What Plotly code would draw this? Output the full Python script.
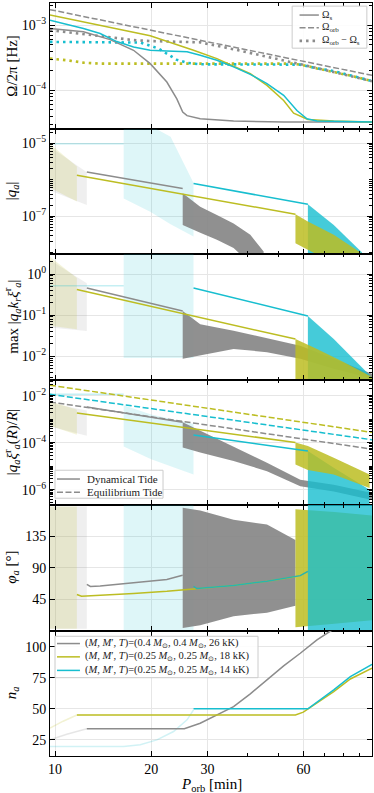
import math
import plotly.graph_objects as go
from plotly.subplots import make_subplots

GRAY = "#8c8c8c"
OLIVE = "#bcbd22"
CYAN = "#17becf"
F_GRAY = "rgba(128,128,128,0.13)"
F_OLIVE = "rgba(188,189,34,0.16)"
F_CYAN = "rgba(23,190,207,0.14)"
B_GRAY = "rgba(135,135,135,0.92)"
B_OLIVE = "rgba(188,189,34,0.85)"
B_CYAN = "rgba(23,190,207,0.8)"
FONT = "Liberation Serif"

# ---------------- Panel 1 : Omega / 2pi [Hz] ----------------
P_ORB = [9.64, 98.3]
OMEGA_ORB = [1.73e-3, 1.70e-4]

P_OS_GRAY = [9.64, 12.27, 14.87, 17.61, 19.86, 22.39, 24.06, 25.1, 25.9, 28.48, 36.23, 51.98, 98.3]
OS_GRAY = [8.9e-4, 7.9e-4, 6.0e-4, 4.12e-4, 2.57e-4, 1.34e-4, 7.4e-5, 4.65e-5, 4.1e-5, 3.66e-5, 3.39e-5, 3.26e-5, 3.26e-5]
P_OD_GRAY = [9.64, 12.27, 14.87, 17.61, 19.86, 22.39, 25.26, 28.48, 36.23, 58.61, 98.3]
OD_GRAY = [8.4e-4, 7.3e-4, 6.4e-4, 5.9e-4, 5.7e-4, 5.6e-4, 5.5e-4, 5.45e-4, 4.27e-4, 2.52e-4, 1.38e-4]

P_OS_CYAN = [9.64, 12.27, 13.84, 15.61, 17.61, 19.86, 22.39, 25.9, 28.48, 32.12, 36.23, 40.87, 46.09, 51.98, 57.2, 61.5, 66.1, 98.3]
OS_CYAN = [1.19e-3, 8.9e-4, 7.45e-4, 5.6e-4, 4.64e-4, 4.12e-4, 4.0e-4, 3.9e-4, 3.45e-4, 2.9e-4, 2.29e-4, 1.76e-4, 1.27e-4, 8.4e-5, 4.9e-5, 3.66e-5, 3.4e-5, 3.26e-5]
P_OD_CYAN = [9.64, 14.87, 18.5, 21.1, 24.0, 25.9, 28.48, 58.61, 66.1, 74.6, 84.1, 98.3]
OD_CYAN = [5.54e-4, 5.54e-4, 5.41e-4, 4.37e-4, 2.96e-4, 2.64e-4, 2.51e-4, 2.48e-4, 2.18e-4, 1.98e-4, 1.70e-4, 1.39e-4]

P_OS_OLIVE = [9.64, 13.84, 19.86, 27.14, 32.12, 36.23, 40.87, 46.09, 51.98, 55.86, 58.61, 61.9, 74.6, 98.3]
OS_OLIVE = [1.43e-3, 1.0e-3, 6.86e-4, 4.12e-4, 3.07e-4, 2.34e-4, 1.8e-4, 1.19e-4, 7.0e-5, 4.48e-5, 4.0e-5, 3.58e-5, 3.39e-5, 3.26e-5]
P_OD_OLIVE = [9.64, 10.88, 12.27, 13.84, 55.86, 61.5, 66.1, 74.6, 84.1, 98.3]
OD_OLIVE = [3.07e-4, 2.9e-4, 2.66e-4, 2.57e-4, 2.57e-4, 2.37e-4, 2.17e-4, 1.93e-4, 1.68e-4, 1.39e-4]

# ---------------- Panel 2 : |q_a| ----------------
Q_FADE_OLIVE_P = [9.64, 11.7]; Q_FADE_OLIVE_HI = [9.6e-6, 2.3e-6]; Q_FADE_OLIVE_LO = [6e-7, 2.5e-7]
Q_FADE_GRAY_P = [9.64, 12.57]; Q_FADE_GRAY_HI = [8e-6, 1.6e-6]; Q_FADE_GRAY_LO = [5e-7, 2.0e-7]
Q_FADE_CYAN_FLAT_P = [9.64, 16.4]; Q_FADE_CYAN_FLAT = [9.6e-6, 9.6e-6]
Q_FADE_CYAN_P = [16.4, 19.86, 23.0, 27.14]; Q_FADE_CYAN_HI = [3e-5, 3e-5, 1.5e-5, 8e-7]; Q_FADE_CYAN_LO = [3.05e-7, 1.32e-7, 6e-8, 2.75e-8]
Q_GRAY_P = [12.57, 25.1]; Q_GRAY = [1.62e-6, 5.7e-7]
Q_GRAY_BP = [25.1, 28.48, 32.12, 36.23, 40.87, 45.0]
Q_GRAY_HI = [4.2e-7, 1.8e-7, 1.07e-7, 6.3e-8, 3.05e-8, 1.07e-8]
Q_GRAY_LO = [5.7e-8, 3.5e-8, 2.24e-8, 1.33e-8, 5e-9, 5e-9]
Q_OLIVE_P = [11.7, 56.6]; Q_OLIVE = [1.32e-6, 1.12e-7]
Q_OLIVE_BP = [56.6, 61.9, 74.6, 90.4]; Q_OLIVE_HI = [1.12e-7, 7.1e-8, 3.05e-8, 1.0e-8]; Q_OLIVE_LO = [1.8e-8, 1.2e-8, 5e-9, 5e-9]
Q_CYAN_P = [27.14, 61.9]; Q_CYAN = [7.8e-7, 2.1e-7]
Q_CYAN_BP = [61.9, 74.6, 91.5]; Q_CYAN_HI = [2.1e-7, 5.7e-8, 1.0e-8]; Q_CYAN_LO = [5e-9, 5e-9, 5e-9]

# ---------------- Panel 3 : max |q k xi| ----------------
K_FADE_OLIVE_P = [9.64, 11.7]; K_FADE_OLIVE_HI = [2.65, 0.8]; K_FADE_OLIVE_LO = [0.055, 0.045]
K_FADE_GRAY_P = [9.64, 12.57]; K_FADE_GRAY_HI = [2.2, 0.6]; K_FADE_GRAY_LO = [0.05, 0.041]
K_FADE_CYAN_FLAT_P = [9.64, 16.4]; K_FADE_CYAN_FLAT = [0.52, 0.52]
K_FADE_CYAN_P = [16.4, 27.14]; K_FADE_CYAN_HI = [5.0, 5.0]; K_FADE_CYAN_LO = [9e-3, 9e-3]
K_GRAY_P = [12.57, 25.1]; K_GRAY = [0.46, 0.126]
K_GRAY_BP = [25.1, 28.48, 36.23, 46.09, 58.61, 74.6, 98.3]
K_GRAY_HI = [0.126, 0.060, 0.0414, 0.0271, 0.018, 8.6e-3, 3.74e-3]
K_GRAY_LO = [8.6e-3, 0.0103, 0.015, 0.0125, 8.6e-3, 4.94e-3, 2.84e-3]
K_OLIVE_P = [11.7, 56.6]; K_OLIVE = [0.419, 0.026]
K_OLIVE_BP = [56.6, 66.1, 80.0, 98.3]; K_OLIVE_HI = [0.026, 0.015, 7.2e-3, 3.1e-3]; K_OLIVE_LO = [1e-3, 1e-3, 1e-3, 1e-3]
K_CYAN_P = [27.14, 61.9]; K_CYAN = [0.46, 0.095]
K_CYAN_BP = [61.9, 74.6, 98.3]; K_CYAN_HI = [0.095, 0.026, 3e-3]; K_CYAN_LO = [1e-3, 1e-3, 1e-3]

# ---------------- Panel 4 : |q xi(R)/R| ----------------
E_EQ_P = [9.64, 98.3]
E_EQ_OLIVE = [0.0286, 2.8e-4]
E_EQ_CYAN = [0.0117, 1.35e-4]
E_EQ_GRAY = [5.5e-3, 5.4e-5]
E_FADE_OLIVE_P = [9.64, 11.7]; E_FADE_OLIVE_HI = [6e-3, 2.6e-3]; E_FADE_OLIVE_LO = [5.4e-4, 2.2e-4]
E_FADE_GRAY_P = [9.64, 12.57]; E_FADE_GRAY_HI = [5e-3, 2.4e-3]; E_FADE_GRAY_LO = [5e-4, 2e-4]
E_FADE_CYAN_FLAT_P = [9.64, 16.4]; E_FADE_CYAN_FLAT = [0.0117, 0.0117]
E_FADE_CYAN_P = [16.4, 20.0, 27.14]; E_FADE_CYAN_HI = [4e-3, 1.6e-3, 6.4e-4]; E_FADE_CYAN_LO = [7e-5, 2e-5, 4.5e-6]
E_GRAY_P = [12.57, 25.1]; E_GRAY = [3.4e-3, 7.5e-4]
E_GRAY_BP = [25.1, 28.48, 36.23, 46.09, 58.61, 74.6, 98.3]
E_GRAY_HI = [7.5e-4, 3.3e-4, 7.4e-5, 1.43e-5, 2.7e-6, 1.65e-6, 7.2e-7]
E_GRAY_LO = [6.3e-5, 3.9e-5, 1.7e-5, 6.2e-6, 1.4e-6, 8.5e-7, 3.7e-7]
E_OLIVE_P = [11.7, 56.6]; E_OLIVE = [1.85e-3, 1.04e-4]
E_OLIVE_BP = [56.6, 61.9, 74.6, 96.6]; E_OLIVE_HI = [1.04e-4, 7.4e-5, 2.3e-5, 4.5e-6]; E_OLIVE_LO = [1.2e-5, 7e-6, 4.5e-6, 1.2e-6]
E_CYAN_P = [27.14, 61.9]; E_CYAN = [2.15e-4, 4.5e-5]
E_CYAN_BP = [61.9, 74.6, 96.6]; E_CYAN_HI = [4.5e-5, 8.7e-6, 1e-6]; E_CYAN_LO = [1e-7, 1e-7, 1e-7]

# ---------------- Panel 5 : phi_a [deg] ----------------
PH_FADE_OLIVE_P = [9.64, 11.7]; PH_FADE_OLIVE_HI = [178, 178]; PH_FADE_OLIVE_LO = [3, 3]
PH_FADE_GRAY_P = [9.64, 12.57]; PH_FADE_GRAY_HI = [178, 178]; PH_FADE_GRAY_LO = [3, 3]
PH_FADE_CYAN_P = [16.4, 27.14]; PH_FADE_CYAN_HI = [180, 180]; PH_FADE_CYAN_LO = [0, 0]
PH_GRAY_P = [12.57, 12.9, 13.84, 17.61, 22.39, 24.9, 25.1]
PH_GRAY = [66.4, 63.5, 64.0, 68.8, 73.5, 79.2, 79.5]
PH_GRAY_BP = [25.1, 28.48, 36.23, 46.09, 56.6]
PH_GRAY_HI = [176, 172, 159, 152, 130]
PH_GRAY_LO = [4, 8, 21, 26, 36]
PH_OLIVE_P = [11.7, 12.1, 17.61, 22.39, 27.14, 36.23, 46.09, 56.6]
PH_OLIVE = [52, 49.5, 53.5, 56.5, 60, 65, 71, 77.5]
PH_OLIVE_BP = [56.6, 75.0, 98.3]; PH_OLIVE_HI = [174, 170, 165]; PH_OLIVE_LO = [5, 10, 15]
PH_CYAN_P = [27.14, 27.8, 36.23, 46.09, 58.61, 61.9]
PH_CYAN = [63.5, 60.5, 65, 71, 79, 85]
PH_CYAN_BP = [61.9, 98.3]; PH_CYAN_HI = [180, 180]; PH_CYAN_LO = [0, 0]

# ---------------- Panel 6 : n_a ----------------
N_FADE_OLIVE_P = [9.64, 10.6, 11.7]; N_FADE_OLIVE = [34.4, 40, 45]
N_FADE_GRAY_P = [9.64, 10.88, 12.57]; N_FADE_GRAY = [25, 29.5, 34]
N_FADE_CYAN_P = [9.64, 16.4, 18.48, 20.84, 23.5, 25.9, 27.14]; N_FADE_CYAN = [19.6, 19.6, 21, 25, 31.7, 41.1, 49.1]
N_GRAY_P = [12.57, 25.4, 28.48, 32.12, 36.23, 40.87, 46.09, 51.98, 58.61, 66.1, 73.7]
N_GRAY = [34, 34, 38.4, 45, 51.8, 62, 73, 84.5, 94.7, 105.4, 113.4]
N_OLIVE_P = [11.7, 56.6, 59.9, 62.5, 74.6, 84.1, 98.3]
N_OLIVE = [45, 45, 47.3, 50.5, 63.8, 74, 82.6]
N_CYAN_P = [27.14, 61.9, 74.6, 84.1, 98.3]
N_CYAN = [50, 50, 65.2, 75.9, 85.8]

# legend texts
LEG1_LABELS = ["Ω<sub>s</sub>", "Ω<sub>orb</sub>", "Ω<sub>orb</sub> − Ω<sub>s</sub>"]
LEG2_LABELS = ["Dynamical Tide", "Equilibrium Tide"]
LEG3_LABELS = [
    "(<i>M</i>, <i>M</i>′, <i>T</i>)=(0.4 <i>M</i><sub>⊙</sub>, 0.4 <i>M</i><sub>⊙</sub>, 26 kK)",
    "(<i>M</i>, <i>M</i>′, <i>T</i>)=(0.25 <i>M</i><sub>⊙</sub>, 0.25 <i>M</i><sub>⊙</sub>, 18 kK)",
    "(<i>M</i>, <i>M</i>′, <i>T</i>)=(0.25 <i>M</i><sub>⊙</sub>, 0.25 <i>M</i><sub>⊙</sub>, 14 kK)",
]

X_TICKS = [10, 20, 30, 60]
X_MINOR = [40, 50, 70, 80, 90]

fig = make_subplots(rows=6, cols=1, shared_xaxes=True, vertical_spacing=0)

DASH = "6px,2.5px"
DOT = "2.5px,4px"


def line(P, v, color, row, dash="solid", width=1.5):
    fig.add_trace(go.Scatter(x=P, y=v, mode="lines",
                             line=dict(color=color, width=width, dash=dash),
                             showlegend=False, hoverinfo="skip"), row=row, col=1)


def band(P, lo, hi, fillcolor, row):
    fig.add_trace(go.Scatter(x=list(P) + list(P)[::-1], y=list(hi) + list(lo)[::-1],
                             mode="lines", line=dict(width=0), fill="toself",
                             fillcolor=fillcolor, showlegend=False, hoverinfo="skip"),
                  row=row, col=1)


# Panel 1
line(P_OD_OLIVE, OD_OLIVE, OLIVE, 1, dash=DOT, width=2.6)
line(P_OD_CYAN, OD_CYAN, CYAN, 1, dash=DOT, width=2.6)
line(P_ORB, OMEGA_ORB, GRAY, 1, dash=DASH)
line(P_OD_GRAY, OD_GRAY, GRAY, 1, dash=DOT, width=2.6)
line(P_OS_GRAY, OS_GRAY, GRAY, 1)
line(P_OS_OLIVE, OS_OLIVE, OLIVE, 1)
line(P_OS_CYAN, OS_CYAN, CYAN, 1)

# Panel 2
band(Q_FADE_GRAY_P, Q_FADE_GRAY_LO, Q_FADE_GRAY_HI, F_GRAY, 2)
band(Q_FADE_OLIVE_P, Q_FADE_OLIVE_LO, Q_FADE_OLIVE_HI, F_OLIVE, 2)
band(Q_FADE_CYAN_P, Q_FADE_CYAN_LO, Q_FADE_CYAN_HI, F_CYAN, 2)
line(Q_FADE_CYAN_FLAT_P, Q_FADE_CYAN_FLAT, "rgba(23,190,207,0.25)", 2)
band(Q_GRAY_BP, Q_GRAY_LO, Q_GRAY_HI, B_GRAY, 2)
band(Q_CYAN_BP, Q_CYAN_LO, Q_CYAN_HI, B_CYAN, 2)
band(Q_OLIVE_BP, Q_OLIVE_LO, Q_OLIVE_HI, B_OLIVE, 2)
line(Q_GRAY_P, Q_GRAY, GRAY, 2)
line(Q_OLIVE_P, Q_OLIVE, OLIVE, 2)
line(Q_CYAN_P, Q_CYAN, CYAN, 2)

# Panel 3
band(K_FADE_GRAY_P, K_FADE_GRAY_LO, K_FADE_GRAY_HI, F_GRAY, 3)
band(K_FADE_OLIVE_P, K_FADE_OLIVE_LO, K_FADE_OLIVE_HI, F_OLIVE, 3)
band(K_FADE_CYAN_P, K_FADE_CYAN_LO, K_FADE_CYAN_HI, F_CYAN, 3)
line(K_FADE_CYAN_FLAT_P, K_FADE_CYAN_FLAT, "rgba(23,190,207,0.25)", 3)
band(K_GRAY_BP, K_GRAY_LO, K_GRAY_HI, B_GRAY, 3)
band(K_CYAN_BP, K_CYAN_LO, K_CYAN_HI, B_CYAN, 3)
band(K_OLIVE_BP, K_OLIVE_LO, K_OLIVE_HI, B_OLIVE, 3)
line(K_GRAY_P, K_GRAY, GRAY, 3)
line(K_OLIVE_P, K_OLIVE, OLIVE, 3)
line(K_CYAN_P, K_CYAN, CYAN, 3)

# Panel 4
band(E_FADE_GRAY_P, E_FADE_GRAY_LO, E_FADE_GRAY_HI, F_GRAY, 4)
band(E_FADE_OLIVE_P, E_FADE_OLIVE_LO, E_FADE_OLIVE_HI, F_OLIVE, 4)
band(E_FADE_CYAN_P, E_FADE_CYAN_LO, E_FADE_CYAN_HI, F_CYAN, 4)
line(E_FADE_CYAN_FLAT_P, E_FADE_CYAN_FLAT, "rgba(23,190,207,0.25)", 4)
band(E_GRAY_BP, E_GRAY_LO, E_GRAY_HI, B_GRAY, 4)
band(E_CYAN_BP, E_CYAN_LO, E_CYAN_HI, B_CYAN, 4)
band(E_OLIVE_BP, E_OLIVE_LO, E_OLIVE_HI, B_OLIVE, 4)
line(E_EQ_P, E_EQ_OLIVE, OLIVE, 4, dash=DASH)
line(E_EQ_P, E_EQ_CYAN, CYAN, 4, dash=DASH)
line(E_EQ_P, E_EQ_GRAY, GRAY, 4, dash=DASH)
line(E_GRAY_P, E_GRAY, GRAY, 4)
line(E_OLIVE_P, E_OLIVE, OLIVE, 4)
line(E_CYAN_P, E_CYAN, CYAN, 4)

# Panel 5
band(PH_FADE_GRAY_P, PH_FADE_GRAY_LO, PH_FADE_GRAY_HI, F_GRAY, 5)
band(PH_FADE_OLIVE_P, PH_FADE_OLIVE_LO, PH_FADE_OLIVE_HI, F_OLIVE, 5)
band(PH_FADE_CYAN_P, PH_FADE_CYAN_LO, PH_FADE_CYAN_HI, F_CYAN, 5)
band(PH_GRAY_BP, PH_GRAY_LO, PH_GRAY_HI, B_GRAY, 5)
band(PH_OLIVE_BP, PH_OLIVE_LO, PH_OLIVE_HI, B_OLIVE, 5)
band(PH_CYAN_BP, PH_CYAN_LO, PH_CYAN_HI, "rgba(23,190,207,0.78)", 5)
line(PH_GRAY_P, PH_GRAY, GRAY, 5)
line(PH_OLIVE_P, PH_OLIVE, OLIVE, 5)
line(PH_CYAN_P, PH_CYAN, "#2ab3b0", 5)

# Panel 6
line(N_FADE_OLIVE_P, N_FADE_OLIVE, "rgba(188,189,34,0.2)", 6)
line(N_FADE_GRAY_P, N_FADE_GRAY, "rgba(128,128,128,0.2)", 6)
line(N_FADE_CYAN_P, N_FADE_CYAN, "rgba(23,190,207,0.2)", 6)
line(N_GRAY_P, N_GRAY, GRAY, 6)
line(N_OLIVE_P, N_OLIVE, OLIVE, 6)
line(N_CYAN_P, N_CYAN, CYAN, 6)

GRID = "#e6e6e6"
TICKFONT = dict(family=FONT, size=14, color="black")

for r in range(1, 7):
    fig.update_xaxes(type="log", range=[math.log10(9.64), math.log10(98.3)],
                     tickvals=X_TICKS, ticktext=[str(t) for t in X_TICKS],
                     ticks="inside", ticklen=5, tickwidth=1, tickcolor="black",
                     showline=True, linecolor="black", linewidth=1, mirror="ticks",
                     showgrid=True, gridcolor=GRID, gridwidth=1, zeroline=False,
                     automargin=False,
                     minor=dict(tickvals=X_MINOR, ticks="inside", ticklen=3,
                                tickcolor="black", showgrid=False),
                     showticklabels=(r == 6), tickfont=TICKFONT, row=r, col=1)


def minor_log(e0, e1, extra=()):
    return [k * 10.0 ** e for e in range(e0, e1) for k in range(2, 10)] + list(extra)


def sup(e):
    return "10<sup>" + ("−" + str(-e) if e < 0 else str(e)) + "</sup>"


YSPEC = {
    1: dict(rng=[-4.585, -2.66], major=[-4, -3], minor=minor_log(-5, -2)),
    2: dict(rng=[-8.04, -4.6], major=[-7, -5], minor=minor_log(-9, -4, [1e-6, 1e-8])),
    3: dict(rng=[-2.57, 0.49], major=[-2, -1, 0], minor=minor_log(-3, 1)),
    4: dict(rng=[-6.65, -1.3], major=[-6, -4, -2], minor=minor_log(-7, -1, [1e-3, 1e-5, 1e-7])),
}
for r, s in YSPEC.items():
    fig.update_yaxes(type="log", range=s["rng"],
                     tickvals=[10.0 ** e for e in s["major"]],
                     ticktext=[sup(e) for e in s["major"]],
                     ticks="inside", ticklen=5, tickcolor="black",
                     showline=True, linecolor="black", linewidth=1, mirror="ticks",
                     showgrid=True, gridcolor=GRID, zeroline=False, automargin=False,
                     minor=dict(tickvals=s["minor"], ticks="inside", ticklen=3,
                                tickcolor="black", showgrid=False),
                     tickfont=TICKFONT, row=r, col=1)

fig.update_yaxes(range=[0.5, 180], tickvals=[45, 90, 135], ticks="inside", ticklen=5,
                 tickcolor="black", showline=True, linecolor="black", mirror="ticks",
                 showgrid=True, gridcolor=GRID, zeroline=False, tickfont=TICKFONT,
                 automargin=False, row=5, col=1)
fig.update_yaxes(range=[12, 113], tickvals=[25, 50, 75, 100], ticks="inside", ticklen=5,
                 tickcolor="black", showline=True, linecolor="black", mirror="ticks",
                 showgrid=True, gridcolor=GRID, zeroline=False, tickfont=TICKFONT,
                 automargin=False, row=6, col=1)

YTITLES = [
    "Ω/2π [Hz]",
    "|<i>q<sub>a</sub></i>|",
    "max |<i>q<sub>a</sub>k<sub>r</sub>ξ</i><sup>r</sup><sub><i>a</i></sub>|",
    "|<i>q<sub>a</sub>ξ</i><sup>r</sup><sub><i>a</i></sub>(<i>R</i>)/<i>R</i>|",
    "<i>φ<sub>a</sub></i> [°]",
    "<i>n<sub>a</sub></i>",
]
ann = []
shapes = []
for i, t in enumerate(YTITLES):
    yref = "y domain" if i == 0 else f"y{i + 1} domain"
    ann.append(dict(text=t, textangle=-90, xref="paper", x=-0.118, xanchor="center",
                    yref=yref, y=0.5, yanchor="middle", showarrow=False,
                    font=dict(family=FONT, size=15, color="black")))
ann.append(dict(text="<i>P</i><sub>orb</sub> [min]", xref="paper", x=0.5, xanchor="center",
                yref="paper", y=-0.039, yanchor="middle", showarrow=False,
                font=dict(family=FONT, size=15, color="black")))


def legend_box(row, box, line_x, text_x, rows, styles, labels, size=11):
    yref = "y domain" if row == 1 else f"y{row} domain"
    xref = "x domain" if row == 1 else f"x{row} domain"
    shapes.append(dict(type="rect", xref=xref, yref=yref, x0=box[0], x1=box[1],
                       y0=box[2], y1=box[3], fillcolor="rgba(255,255,255,0.85)",
                       line=dict(color="#cccccc", width=1), layer="above"))
    for yy, (col, dash, w), lab in zip(rows, styles, labels):
        shapes.append(dict(type="line", xref=xref, yref=yref, x0=line_x[0], x1=line_x[1],
                           y0=yy, y1=yy, line=dict(color=col, dash=dash, width=w),
                           layer="above"))
        ann.append(dict(text=lab, xref=xref, yref=yref, x=text_x, y=yy, xanchor="left",
                        yanchor="middle", showarrow=False,
                        font=dict(family=FONT, size=size, color="#222222")))


legend_box(1, (0.752, 0.984, 0.64, 0.975), (0.775, 0.835), 0.84,
           [0.904, 0.802, 0.698],
           [(GRAY, "solid", 1.5), (GRAY, DASH, 1.5), (GRAY, DOT, 2.6)], LEG1_LABELS, size=10)
legend_box(4, (0.0155, 0.351, 0.054, 0.277), (0.0217, 0.093), 0.109,
           [0.207, 0.102],
           [(GRAY, "solid", 1.5), (GRAY, DASH, 1.5)], LEG2_LABELS)
legend_box(6, (0.0155, 0.646, 0.624, 0.954), (0.0217, 0.093), 0.1035,
           [0.896, 0.79, 0.682],
           [(GRAY, "solid", 1.5), (OLIVE, "solid", 1.5), (CYAN, "solid", 1.5)], LEG3_LABELS,
           size=10.5)

fig.update_layout(
    width=374, height=793,
    margin=dict(l=50, r=2, t=3, b=37),
    paper_bgcolor="white", plot_bgcolor="white",
    font=dict(family=FONT, size=14, color="black"),
    annotations=ann, shapes=shapes, showlegend=False,
)

fig.write_html("out.html", config={"displayModeBar": False},
               post_script="document.body.style.margin='0px';document.body.style.padding='0px';")
